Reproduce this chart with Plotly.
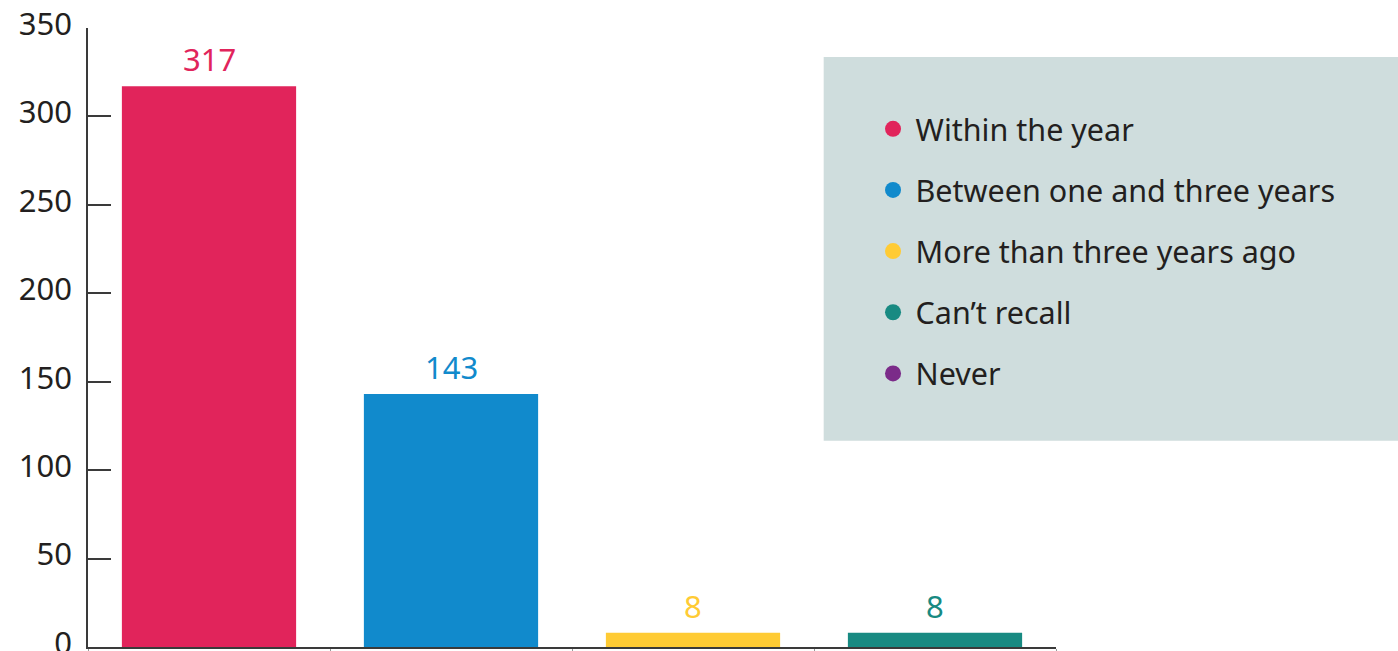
import plotly.graph_objects as go

categories = ["Within the year", "Between one and three years", "More than three years ago", "Can\u2019t recall", "Never"]
values = [317, 143, 8, 8, None]
colors = ["#E1245B", "#118ACC", "#FFCB34", "#188A82", "#7B2B89"]
y_ticks = [0, 50, 100, 150, 200, 250, 300, 350]

FONT = "Noto Sans"
TXT = "#231F20"

fig = go.Figure()
annotations = []
for i, (cat, val, col) in enumerate(zip(categories, values, colors)):
    if val is not None:
        fig.add_trace(go.Bar(
            x=[cat], y=[val], marker=dict(color=col, line=dict(width=0)),
            showlegend=False, hoverinfo="skip",
        ))
        annotations.append(dict(
            x=cat, y=val, xref="x", yref="y", text=str(val), showarrow=False,
            yanchor="bottom", yshift=4,
            font=dict(color=col, size=31, family=FONT),
        ))
    fig.add_trace(go.Scatter(
        x=[None], y=[None], mode="markers", name=cat,
        marker=dict(color=col, size=17, symbol="circle"),
        legendgroup=f"g{i}", showlegend=True,
    ))

fig.update_layout(
    width=1398, height=651,
    margin=dict(l=88, r=342, t=28, b=4, autoexpand=False),
    paper_bgcolor="white", plot_bgcolor="white",
    bargap=0.28,
    font=dict(family=FONT, color=TXT, size=30.5),
    showlegend=True,
    legend=dict(
        x=0.8084, xanchor="left", y=0.8797, yanchor="top",
        bgcolor="rgba(0,0,0,0)", font=dict(size=30.5, color=TXT, family=FONT),
        traceorder="grouped", tracegroupgap=18.5, itemsizing="trace",
        itemwidth=35,
    ),
    annotations=annotations,
    shapes=[dict(type="rect", xref="paper", yref="paper",
                 x0=0.760, x1=1.36, y0=0.333, y1=0.953,
                 fillcolor="#CFDDDD", line=dict(width=0), layer="below")],
)

fig.update_xaxes(
    categoryorder="array", categoryarray=categories,
    range=[-0.5, 3.5], showticklabels=False, automargin=False,
    showline=True, linecolor="#3A3A3A", linewidth=1.5,
    ticks="outside", tickson="boundaries", ticklen=3, tickcolor="#999999",
    showgrid=False, zeroline=False, fixedrange=True,
)
fig.update_yaxes(
    range=[0, 350], tickvals=y_ticks, ticks="inside", ticklen=23,
    tickcolor="#3A3A3A", tickwidth=1.5, automargin=False,
    showline=True, linecolor="#3A3A3A", linewidth=1.5,
    showgrid=False, zeroline=False,
    tickfont=dict(size=31, color=TXT, family=FONT),
    ticklabelstandoff=8, ticklabelshift=-4, ticklabeloverflow="allow",
)

fig.write_html("out.html")
